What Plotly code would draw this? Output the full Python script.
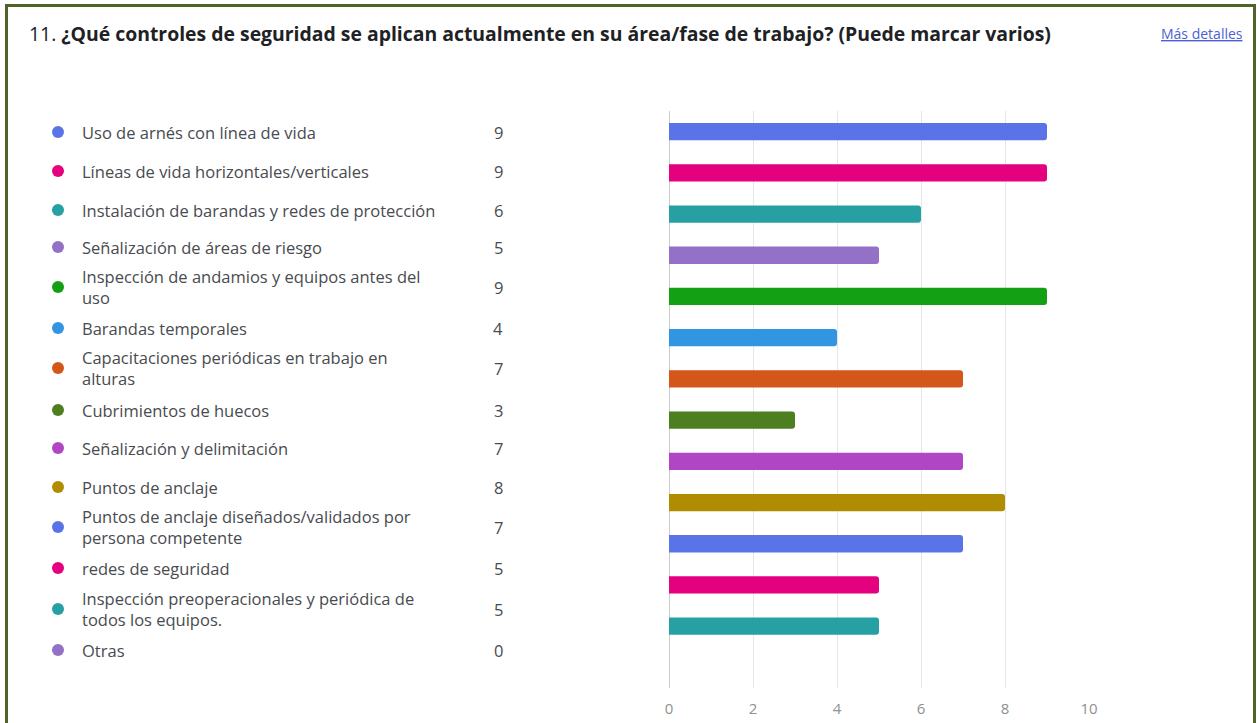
import plotly.graph_objects as go

W, H = 1257, 723

categories = [
    "Uso de arnés con línea de vida",
    "Líneas de vida horizontales/verticales",
    "Instalación de barandas y redes de protección",
    "Señalización de áreas de riesgo",
    "Inspección de andamios y equipos antes del<br>uso",
    "Barandas temporales",
    "Capacitaciones periódicas en trabajo en<br>alturas",
    "Cubrimientos de huecos",
    "Señalización y delimitación",
    "Puntos de anclaje",
    "Puntos de anclaje diseñados/validados por<br>persona competente",
    "redes de seguridad",
    "Inspección preoperacionales y periódica de<br>todos los equipos.",
    "Otras",
]
values = [9, 9, 6, 5, 9, 4, 7, 3, 7, 8, 7, 5, 5, 0]
colors = [
    "#5a74e8", "#e4007f", "#27a0a3", "#9271c7", "#13a015", "#3195e2", "#d3561a",
    "#4d7f20", "#b046c4", "#b08c00", "#5a74e8", "#e4007f", "#27a0a3", "#9271c7",
]
x_ticks = [0, 2, 4, 6, 8, 10]

title_num = "11."
title_text = "¿Qué controles de seguridad se aplican actualmente en su área/fase de trabajo? (Puede marcar varios)"
link_text = "Más detalles"

FONT = "Open Sans, Noto Sans, sans-serif"

# layout geometry (pixels)
px_left, px_right = 669, 1089
py_top, py_bottom = 111, 688
legend_row_px = [132, 171, 210, 247, 287, 328, 368, 410, 448, 487, 527, 568, 609, 650]
dot_px, label_px, count_px = 58, 80, 498

fig = go.Figure()
fig.add_trace(go.Bar(
    x=values, y=categories, orientation="h",
    marker=dict(color=colors, line=dict(width=0)),
    width=0.42, hoverinfo="x+y", xaxis="x", yaxis="y",
))

# legend dots on a hidden full-page axis pair measured in pixels
fig.add_trace(go.Scatter(
    x=[dot_px] * len(categories), y=legend_row_px, mode="markers",
    marker=dict(size=12, color=colors, line=dict(width=0)),
    xaxis="x2", yaxis="y2", hoverinfo="skip",
))

label_font = dict(family=FONT, size=16.5, color="#484b4f")
annotations = []
for cat, val, ypx in zip(categories, values, legend_row_px):
    annotations.append(dict(
        xref="x2", yref="y2", x=label_px, y=ypx, text=cat, showarrow=False,
        font=label_font, xanchor="left", yanchor="middle", align="left",
    ))
    annotations.append(dict(
        xref="x2", yref="y2", x=count_px, y=ypx, text=str(val), showarrow=False,
        font=label_font, xanchor="center", yanchor="middle",
    ))

annotations.append(dict(
    xref="x2", yref="y2", x=27, y=33,
    text=f"{title_num} <b>{title_text}</b>", showarrow=False,
    font=dict(family=FONT, size=19.4, color="#202124"),
    xanchor="left", yanchor="middle",
))
annotations.append(dict(
    xref="x2", yref="y2", x=1245, y=33,
    text=f"<u>{link_text}</u>", showarrow=False,
    font=dict(family=FONT, size=14, color="#4c5fd5"),
    xanchor="right", yanchor="middle",
))

fig.update_layout(
    width=W, height=H,
    margin=dict(l=0, r=0, t=0, b=0),
    paper_bgcolor="white", plot_bgcolor="rgba(0,0,0,0)",
    showlegend=False,
    barcornerradius=3,
    xaxis=dict(
        domain=[px_left / W, px_right / W], range=[0, 10],
        tickvals=x_ticks, showgrid=True, gridcolor="#e6e6e6", gridwidth=1,
        zeroline=True, zerolinecolor="#cccccc", zerolinewidth=1,
        showline=False, ticks="", automargin=False, ticklabelstandoff=10,
        tickfont=dict(family=FONT, size=15, color="#909090"),
    ),
    yaxis=dict(
        domain=[1 - py_bottom / H, 1 - py_top / H],
        range=[len(categories) - 0.5, -0.5], showticklabels=False, showgrid=False,
        zeroline=False, ticks="", automargin=False,
    ),
    xaxis2=dict(
        domain=[0, 1], range=[0, W], anchor="y2",
        visible=False, showgrid=False, zeroline=False, fixedrange=True,
    ),
    yaxis2=dict(
        domain=[0, 1], range=[H, 0], anchor="x2",
        visible=False, showgrid=False, zeroline=False, fixedrange=True,
    ),
    annotations=annotations,
    shapes=[dict(
        type="rect", xref="paper", yref="paper",
        x0=6.5 / W, x1=1254.5 / W, y0=-0.05, y1=1 - 5.5 / H,
        line=dict(color="#4f6228", width=3), fillcolor="rgba(0,0,0,0)",
    )],
)

fig.write_html(
    "out.html",
    config={"displayModeBar": False},
    post_script="document.body.style.margin='0';document.body.style.overflow='hidden';",
)
